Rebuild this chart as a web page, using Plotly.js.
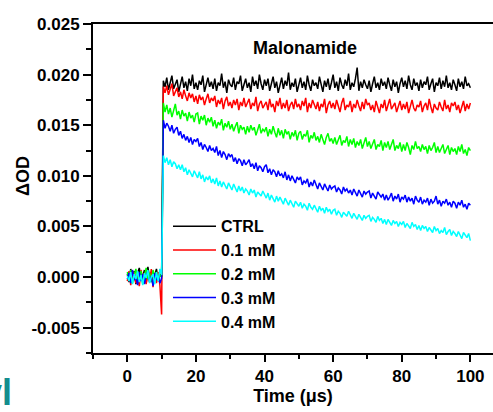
<!DOCTYPE html>
<html>
<head>
<meta charset="utf-8">
<script src="https://cdn.plot.ly/plotly-3.0.1.min.js"></script>
<style>
  html, body { margin: 0; padding: 0; background: #ffffff; }
  #chart { width: 493px; height: 412px; }
</style>
</head>
<body>
<div id="chart"></div>
<script>
// Time axis: uniform sampling, 0 to 100 µs every 0.5 µs (201 samples)
const timeStart = 0;
const timeStep = 0.5;
const sampleCount = 201;

const seriesNames = ["CTRL", "0.1 mM", "0.2 mM", "0.3 mM", "0.4 mM"];
const seriesColors = ["#000000", "#ff0000", "#00ff00", "#0000ff", "#00ffff"];

const ctrl = [.0003,-.0005,.0008,-.0002,.0006,-.0007,.0004,.0009,-.0003,.0001,.0007,-.0006,.0010,-.0001,.0005,-.0008,.0002,.0008,-.0004,.0003,.0000,
.0194,.0188,.0197,.0185,.0192,.0199,.0186,.0190,.0195,.0183,
.0191,.0198,.0187,.0193,.0184,.0196,.0189,.0200,.0186,.0192,
.0185,.0194,.0190,.0199,.0183,.0191,.0197,.0188,.0193,.0186,
.0196,.0184,.0192,.0189,.0201,.0187,.0193,.0182,.0195,.0190,
.0188,.0197,.0185,.0193,.0191,.0199,.0184,.0190,.0196,.0187,
.0192,.0183,.0198,.0189,.0194,.0186,.0200,.0191,.0185,.0195,
.0189,.0196,.0184,.0191,.0198,.0187,.0193,.0182,.0190,.0197,
.0186,.0194,.0189,.0202,.0185,.0192,.0188,.0196,.0183,.0191,
.0197,.0187,.0193,.0185,.0199,.0190,.0184,.0195,.0189,.0192,
.0186,.0198,.0191,.0183,.0194,.0188,.0196,.0185,.0192,.0200,
.0187,.0193,.0184,.0197,.0190,.0186,.0195,.0189,.0201,.0185,
.0192,.0188,.0196,.0207,.0184,.0193,.0187,.0195,.0190,.0186,
.0194,.0183,.0191,.0198,.0187,.0192,.0185,.0196,.0189,.0193,
.0186,.0197,.0190,.0184,.0195,.0188,.0193,.0182,.0191,.0197,
.0188,.0194,.0186,.0199,.0190,.0185,.0196,.0189,.0192,.0184,
.0195,.0187,.0193,.0190,.0198,.0185,.0191,.0196,.0183,.0192,
.0189,.0197,.0186,.0194,.0188,.0199,.0187,.0192,.0185,.0195,
.0190,.0184,.0196,.0188,.0193,.0186,.0198,.0189,.0191,.0187];

const mM01 = [-.0004,.0006,-.0008,.0002,.0005,-.0006,.0001,-.0009,.0007,-.0003,.0004,-.0007,.0003,-.0005,.0008,-.0010,.0002,-.0006,.0005,-.0008,-.0037,
.0188,.0182,.0189,.0180,.0185,.0191,.0179,.0184,.0187,.0178,
.0183,.0176,.0185,.0179,.0174,.0182,.0177,.0181,.0173,.0179,
.0171,.0180,.0175,.0178,.0170,.0176,.0181,.0172,.0177,.0174,
.0179,.0168,.0175,.0171,.0177,.0166,.0174,.0178,.0169,.0173,
.0167,.0175,.0170,.0176,.0165,.0173,.0169,.0177,.0168,.0172,
.0176,.0166,.0172,.0169,.0178,.0164,.0171,.0174,.0167,.0170,
.0173,.0165,.0176,.0168,.0171,.0163,.0174,.0169,.0177,.0166,
.0172,.0167,.0175,.0164,.0170,.0173,.0166,.0176,.0168,.0171,
.0165,.0174,.0169,.0177,.0163,.0172,.0167,.0175,.0170,.0166,
.0173,.0164,.0171,.0168,.0176,.0162,.0170,.0174,.0167,.0172,
.0166,.0175,.0169,.0163,.0172,.0177,.0165,.0170,.0168,.0174,
.0163,.0171,.0167,.0175,.0169,.0164,.0173,.0166,.0176,.0170,
.0172,.0165,.0170,.0163,.0174,.0168,.0162,.0171,.0167,.0175,
.0164,.0170,.0176,.0166,.0169,.0172,.0163,.0168,.0174,.0165,
.0171,.0166,.0173,.0162,.0169,.0175,.0167,.0164,.0170,.0168,
.0174,.0163,.0169,.0172,.0165,.0176,.0168,.0162,.0171,.0167,
.0165,.0173,.0168,.0164,.0175,.0166,.0170,.0163,.0172,.0169,
.0173,.0165,.0170,.0162,.0168,.0174,.0164,.0171,.0166,.0172];

const mM02 = [.0005,-.0003,.0007,-.0006,.0002,.0008,-.0004,.0001,.0006,-.0007,.0003,.0009,-.0002,.0004,-.0005,.0007,-.0001,.0005,-.0003,.0002,.0001,
.0172,.0163,.0170,.0161,.0167,.0158,.0166,.0171,.0160,.0164,
.0156,.0165,.0159,.0162,.0154,.0163,.0157,.0160,.0153,.0161,
.0162,.0151,.0159,.0155,.0160,.0150,.0157,.0153,.0158,.0149,
.0155,.0147,.0153,.0150,.0156,.0145,.0152,.0148,.0154,.0146,
.0151,.0144,.0149,.0153,.0142,.0150,.0146,.0148,.0141,.0149,
.0143,.0150,.0145,.0148,.0140,.0147,.0151,.0142,.0146,.0144,
.0148,.0139,.0146,.0141,.0149,.0143,.0138,.0147,.0140,.0145,
.0137,.0146,.0141,.0144,.0136,.0143,.0139,.0145,.0135,.0142,
.0144,.0136,.0141,.0139,.0145,.0133,.0140,.0137,.0143,.0135,
.0139,.0133,.0141,.0136,.0131,.0138,.0142,.0134,.0137,.0132,
.0138,.0131,.0136,.0140,.0130,.0135,.0133,.0139,.0129,.0136,
.0131,.0137,.0128,.0134,.0130,.0136,.0127,.0133,.0138,.0129,
.0134,.0127,.0132,.0136,.0126,.0131,.0129,.0135,.0125,.0133,
.0128,.0134,.0126,.0131,.0136,.0125,.0130,.0127,.0133,.0124,
.0131,.0125,.0133,.0128,.0121,.0130,.0126,.0134,.0127,.0129,
.0124,.0131,.0126,.0129,.0122,.0130,.0125,.0128,.0133,.0123,
.0129,.0123,.0127,.0131,.0122,.0126,.0130,.0121,.0128,.0124,
.0127,.0121,.0129,.0124,.0131,.0122,.0126,.0120,.0128,.0125];

const mM03 = [-.0002,.0004,-.0006,.0007,-.0003,.0001,-.0008,.0005,-.0004,.0003,-.0007,.0002,.0006,-.0005,.0001,-.0009,.0004,-.0003,.0002,-.0006,-.0001,
.0155,.0147,.0152,.0149,.0144,.0150,.0142,.0146,.0148,.0140,
.0144,.0137,.0141,.0135,.0139,.0133,.0138,.0131,.0136,.0134,
.0137,.0129,.0133,.0126,.0131,.0128,.0124,.0130,.0125,.0127,
.0123,.0129,.0120,.0125,.0118,.0124,.0121,.0116,.0122,.0119,
.0121,.0114,.0118,.0112,.0117,.0115,.0110,.0116,.0111,.0113,
.0116,.0109,.0112,.0107,.0113,.0105,.0110,.0108,.0104,.0109,
.0111,.0103,.0107,.0101,.0106,.0104,.0099,.0105,.0100,.0102,
.0098,.0104,.0096,.0101,.0095,.0100,.0097,.0093,.0099,.0096,
.0099,.0091,.0095,.0093,.0097,.0089,.0094,.0090,.0096,.0091,
.0087,.0093,.0089,.0086,.0092,.0088,.0085,.0091,.0087,.0089,
.0090,.0084,.0088,.0086,.0082,.0089,.0085,.0087,.0083,.0086,
.0081,.0087,.0084,.0080,.0086,.0083,.0079,.0085,.0082,.0084,
.0085,.0078,.0083,.0080,.0077,.0084,.0081,.0079,.0082,.0076,
.0081,.0076,.0079,.0083,.0075,.0080,.0077,.0082,.0074,.0079,
.0077,.0081,.0074,.0079,.0075,.0078,.0072,.0080,.0076,.0074,
.0079,.0072,.0076,.0074,.0078,.0071,.0077,.0073,.0075,.0080,
.0072,.0076,.0070,.0075,.0073,.0077,.0071,.0074,.0069,.0075,
.0073,.0068,.0074,.0071,.0076,.0069,.0072,.0067,.0073,.0071];

const mM04 = [.0001,-.0004,.0005,-.0007,.0003,-.0002,.0006,-.0005,.0002,-.0008,.0004,-.0001,.0007,-.0006,.0000,.0003,-.0007,.0005,-.0004,.0008,.0002,
.0120,.0113,.0118,.0111,.0116,.0109,.0114,.0112,.0107,.0111,
.0106,.0111,.0104,.0108,.0101,.0106,.0103,.0099,.0105,.0101,
.0098,.0104,.0097,.0101,.0094,.0099,.0096,.0100,.0093,.0097,
.0092,.0098,.0090,.0095,.0089,.0094,.0091,.0087,.0093,.0090,
.0086,.0092,.0088,.0084,.0090,.0085,.0089,.0083,.0087,.0085,
.0081,.0087,.0083,.0086,.0079,.0084,.0082,.0080,.0085,.0081,
.0078,.0083,.0076,.0081,.0077,.0074,.0080,.0075,.0079,.0076,
.0072,.0078,.0074,.0071,.0076,.0073,.0069,.0075,.0072,.0070,
.0074,.0068,.0072,.0070,.0066,.0073,.0069,.0067,.0071,.0068,
.0064,.0070,.0066,.0068,.0063,.0069,.0065,.0067,.0062,.0066,
.0067,.0061,.0065,.0063,.0059,.0064,.0062,.0060,.0065,.0061,
.0058,.0063,.0060,.0057,.0062,.0059,.0056,.0061,.0058,.0060,
.0061,.0055,.0059,.0057,.0054,.0060,.0056,.0058,.0053,.0057,
.0052,.0057,.0054,.0051,.0056,.0053,.0055,.0050,.0054,.0052,
.0055,.0049,.0053,.0051,.0048,.0054,.0050,.0052,.0047,.0051,
.0046,.0051,.0048,.0050,.0045,.0049,.0047,.0044,.0050,.0046,
.0048,.0043,.0046,.0044,.0049,.0042,.0045,.0047,.0041,.0045,
.0043,.0040,.0045,.0041,.0038,.0044,.0042,.0039,.0043,.0036];

const xTickVals = [0, 20, 40, 60, 80, 100];
const xTickText = ["0", "20", "40", "60", "80", "100"];
const yTickVals = [-0.005, 0, 0.005, 0.010, 0.015, 0.020, 0.025];
const yTickText = ["-0.005", "0.000", "0.005", "0.010", "0.015", "0.020", "0.025"];

const time = Array.from({length: sampleCount}, (_, i) => timeStart + i * timeStep);
const seriesValues = [ctrl, mM01, mM02, mM03, mM04];

const traces = seriesValues.map((vals, k) => ({
  type: "scatter",
  mode: "lines",
  name: seriesNames[k],
  x: time.slice(0, vals.length),
  y: vals,
  line: {color: seriesColors[k], width: 1.5}
}));

const FONT = "Arial, 'Liberation Sans', sans-serif";

const layout = {
  width: 493,
  height: 412,
  margin: {l: 93, r: 0, t: 24, b: 59, pad: 0},
  paper_bgcolor: "#ffffff",
  plot_bgcolor: "#ffffff",
  showlegend: true,
  font: {family: FONT, color: "#000000", size: 17, weight: 700},
  title: {
    text: "Malonamide",
    font: {family: FONT, size: 18, weight: 700, color: "#000000"},
    xref: "paper", x: 0.53, xanchor: "center",
    yref: "container", y: 1 - 48 / 412, yanchor: "middle"
  },
  xaxis: {
    range: [-10, 106.6],
    tickmode: "array", tickvals: xTickVals, ticktext: xTickText,
    ticks: "outside", ticklen: 7, tickwidth: 2, tickcolor: "#000000",
    minor: {dtick: 10, tick0: 0, ticks: "outside", ticklen: 4, tickwidth: 2, tickcolor: "#000000", showgrid: false},
    showline: true, linewidth: 2, linecolor: "#000000", mirror: true,
    showgrid: false, zeroline: false,
    tickfont: {family: FONT, size: 17, weight: 700, color: "#000000"},
    title: {text: "Time (μs)", font: {family: FONT, size: 18, weight: 700, color: "#000000"}, standoff: 4},
    automargin: false
  },
  yaxis: {
    range: [-0.0075, 0.025],
    tickmode: "array", tickvals: yTickVals, ticktext: yTickText,
    ticks: "outside", ticklen: 8, tickwidth: 2, tickcolor: "#000000",
    minor: {dtick: 0.0025, tick0: 0, ticks: "outside", ticklen: 5, tickwidth: 2, tickcolor: "#000000", showgrid: false},
    showline: true, linewidth: 2, linecolor: "#000000", mirror: false,
    showgrid: false, zeroline: false,
    tickfont: {family: FONT, size: 17, weight: 700, color: "#000000"},
    automargin: false
  },
  legend: {
    x: 0.1875, xanchor: "left",
    y: 0.437, yanchor: "top",
    bgcolor: "rgba(0,0,0,0)", borderwidth: 0,
    font: {family: FONT, size: 16, weight: 700, color: "#000000"},
    itemwidth: 43,
    tracegroupgap: 0
  },
  annotations: [
    {
      // y-axis title, placed where the reference draws it
      text: "ΔOD",
      textangle: -90,
      xref: "paper", x: (23 - 93) / 400, xanchor: "center",
      yref: "paper", y: (353 - 176) / 329, yanchor: "middle",
      showarrow: false,
      font: {family: FONT, size: 18, weight: 700, color: "#000000"}
    },
    {
      text: "yl",
      xref: "paper", x: (14 - 93) / 400, xanchor: "right",
      yref: "paper", y: -0.188, yanchor: "bottom",
      showarrow: false,
      font: {family: FONT, size: 36, weight: 700, color: "#138d8d"}
    }
  ]
};

Plotly.newPlot("chart", traces, layout, {displayModeBar: false, staticPlot: true});
</script>
</body>
</html>
